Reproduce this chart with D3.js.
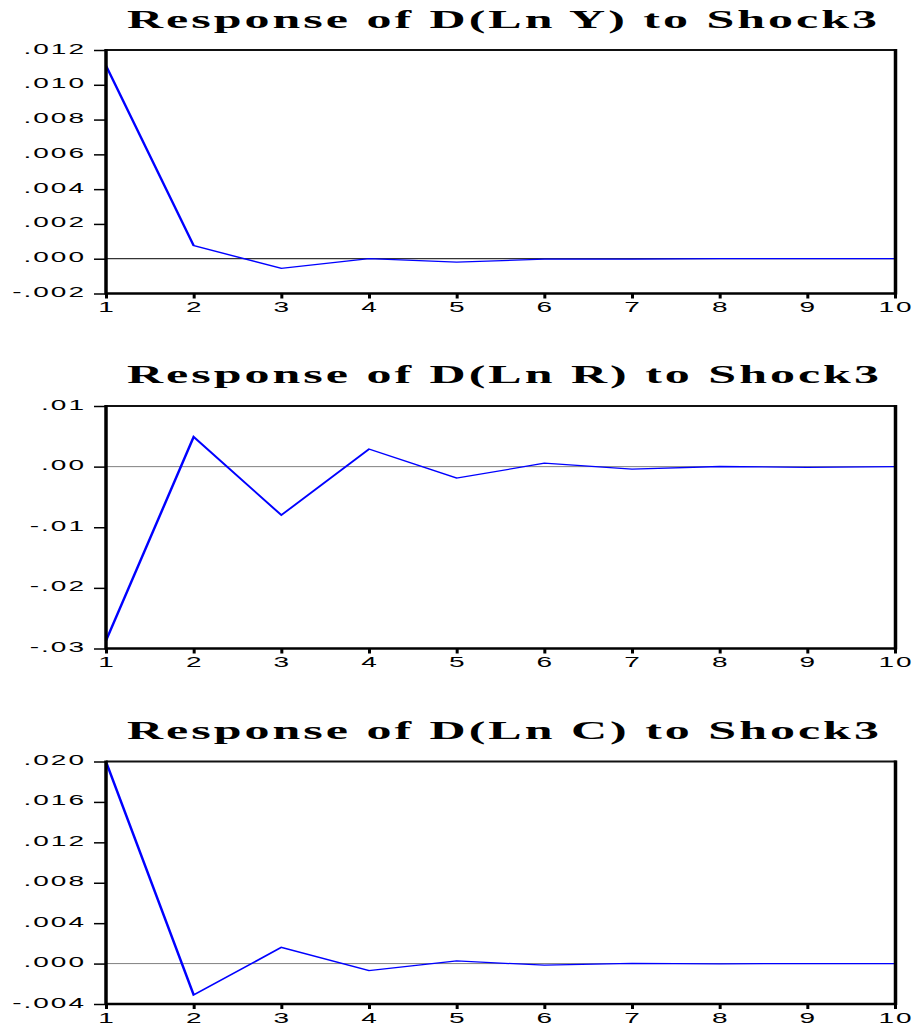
<!DOCTYPE html>
<html><head><meta charset="utf-8">
<script src="https://cdn.jsdelivr.net/npm/d3@7"></script>
<style>body{margin:0;background:#fff}svg{display:block}</style>
</head><body>
<svg id="c" width="916" height="1030"></svg>
<script>
// ---- data ----
const periods = [1, 2, 3, 4, 5, 6, 7, 8, 9, 10];
const xLabels = ["1", "2", "3", "4", "5", "6", "7", "8", "9", "10"];

const titles = [
  "Response of D(Ln Y) to Shock3",
  "Response of D(Ln R) to Shock3",
  "Response of D(Ln C) to Shock3"
];

const responseY = [0.0111, 0.00075, -0.00055, 0.00001, -0.0002, -0.00002, -0.00002, 0.0, 0.0, 0.0];
const responseR = [-0.0287, 0.0049, -0.0080, 0.0029, -0.0019, 0.00056, -0.0004, 0.00002, -0.00012, 0.0];
const responseC = [0.01998, -0.0031, 0.0016, -0.0007, 0.00026, -0.00016, 0.00003, -0.00002, 0.0, 0.0];

const yTicksY = [-0.002, 0.000, 0.002, 0.004, 0.006, 0.008, 0.010, 0.012];
const yLabelsY = ["-.002", ".000", ".002", ".004", ".006", ".008", ".010", ".012"];
const yTicksR = [-0.03, -0.02, -0.01, 0.00, 0.01];
const yLabelsR = ["-.03", "-.02", "-.01", ".00", ".01"];
const yTicksC = [-0.004, 0.000, 0.004, 0.008, 0.012, 0.016, 0.020];
const yLabelsC = ["-.004", ".000", ".004", ".008", ".012", ".016", ".020"];

// ---- layout ----
const left = 106, right = 895;
const panels = [
  {title: titles[0], values: responseY, ticks: yTicksY, labels: yLabelsY, top: 50, bottom: 293.5, titleY: 28, zeroColor: "#000"},
  {title: titles[1], values: responseR, ticks: yTicksR, labels: yLabelsR, top: 406, bottom: 648.5, titleY: 383, zeroColor: "#808080"},
  {title: titles[2], values: responseC, ticks: yTicksC, labels: yLabelsC, top: 761.5, bottom: 1004, titleY: 739, zeroColor: "#808080"}
];

const svg = d3.select("#c");
const SX = 2; // horizontal stretch of the original rendering

const x = d3.scaleLinear().domain([1, 10]).range([left, right]);
const xHalf = d3.scaleLinear().domain([1, 10]).range([left / SX, right / SX]);

panels.forEach(p => {
  const g = svg.append("g");
  const y = d3.scaleLinear().domain(d3.extent(p.ticks)).range([p.bottom, p.top]);

  // title (stretched horizontally)
  g.append("text")
    .attr("transform", `translate(127,${p.titleY}) scale(${SX},1)`)
    .attr("text-anchor", "start")
    .attr("font-family", "Liberation Serif, Times New Roman, serif")
    .attr("font-weight", "bold")
    .attr("font-size", 25)
    .attr("letter-spacing", 1.5)
    .text(p.title);

  // y axis ticks
  const yAxis = d3.axisLeft(y).tickValues(p.ticks).tickSize(12).tickFormat("");
  const ya = g.append("g").attr("transform", `translate(${left},0)`).call(yAxis);
  ya.select(".domain").remove();
  ya.selectAll(".tick line").attr("stroke", "#000").attr("stroke-width", 1.5);

  // x axis ticks
  const xAxis = d3.axisBottom(x).tickValues(periods).tickSize(5).tickFormat("");
  const xa = g.append("g").attr("transform", `translate(0,${p.bottom})`).call(xAxis);
  xa.select(".domain").remove();
  xa.selectAll(".tick line").attr("stroke", "#000").attr("stroke-width", 3);

  // y labels (stretched horizontally)
  p.ticks.forEach((t, i) => {
    g.append("text")
      .attr("transform", `translate(86,${y(t) + 3.5}) scale(${SX},1)`)
      .attr("text-anchor", "end")
      .attr("font-family", "Liberation Sans, Arial, sans-serif")
      .attr("font-size", 14)
      .attr("letter-spacing", 1)
      .text(p.labels[i]);
  });

  // x labels
  periods.forEach((d, i) => {
    g.append("text")
      .attr("transform", `translate(${x(d) + 1},${p.bottom + 18.5}) scale(${SX},1)`)
      .attr("text-anchor", "middle")
      .attr("font-family", "Liberation Sans, Arial, sans-serif")
      .attr("font-size", 14)
      .attr("letter-spacing", 1)
      .text(xLabels[i]);
  });

  // zero line
  g.append("line")
    .attr("x1", left).attr("x2", right)
    .attr("y1", y(0)).attr("y2", y(0))
    .attr("stroke", p.zeroColor).attr("stroke-width", 1);

  // response line (drawn in stretched coordinates)
  const gs = g.append("g").attr("transform", `scale(${SX},1)`);
  const line = d3.line().x((d, i) => xHalf(periods[i])).y(d => y(d));
  gs.append("path")
    .datum(p.values)
    .attr("d", line)
    .attr("fill", "none")
    .attr("stroke", "#0000ff")
    .attr("stroke-width", 1.3)
    .attr("stroke-linejoin", "miter");

  // frame
  g.append("line").attr("x1", left).attr("x2", right + 1.5).attr("y1", p.top).attr("y2", p.top)
    .attr("stroke", "#111").attr("stroke-width", 2);
  g.append("line").attr("x1", left).attr("x2", right + 1.5).attr("y1", p.bottom).attr("y2", p.bottom)
    .attr("stroke", "#000").attr("stroke-width", 2.5);
  g.append("line").attr("x1", left).attr("x2", left).attr("y1", p.top - 1).attr("y2", p.bottom + 1)
    .attr("stroke", "#000").attr("stroke-width", 3.5);
  g.append("line").attr("x1", right + 0.5).attr("x2", right + 0.5).attr("y1", p.top - 1).attr("y2", p.bottom + 1)
    .attr("stroke", "#000").attr("stroke-width", 3.5);
});
</script>
</body></html>
